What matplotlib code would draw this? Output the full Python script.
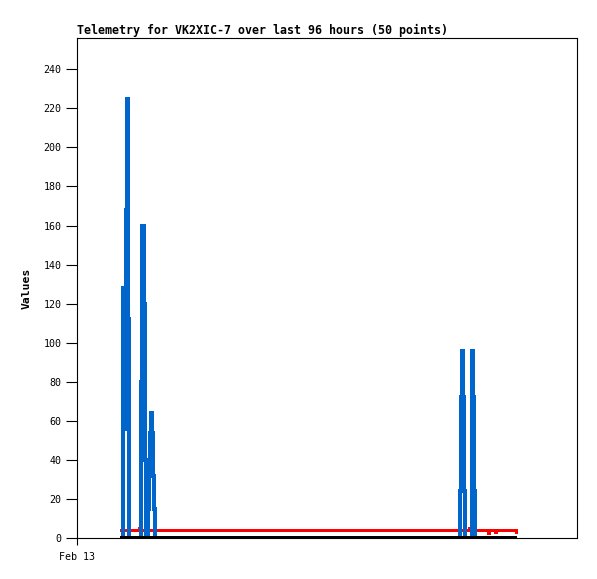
import matplotlib
matplotlib.use("Agg")
import matplotlib.pyplot as plt

# hours since Feb 13 00:00
blue_t = [9.1, 9.3, 9.5, 9.7, 9.9, 10.1, 10.3, 10.5,
          12.7, 12.9, 13.1, 13.3, 13.5, 13.7, 13.9, 14.1, 14.3, 14.5,
          14.7, 14.9, 15.1, 15.3, 15.5, 15.7,
          76.5, 76.7, 76.9, 77.1, 77.3, 77.5, 77.7,
          78.9, 79.1, 79.3, 79.5, 79.7]
blue_v = [0, 128, 80, 56, 168, 225, 112, 0,
          0, 80, 160, 160, 120, 40, 0, 0, 15, 32,
          54, 64, 54, 32, 15, 0,
          0, 24, 72, 96, 72, 24, 0,
          0, 96, 72, 24, 0]

red_t = [8.6, 12.4, 12.6, 12.8, 78.4, 78.6, 78.8, 82.2, 82.4, 82.6,
         83.6, 83.8, 84.0, 87.8, 88.0]
red_v = [4, 4, 5, 4, 4, 5, 4, 4, 2, 4, 4, 2.5, 4, 4, 2.5]

black_t = [8.6, 88.0]
black_v = [0, 0]

xtick_pos = [0]
xtick_lab = ["Feb 13"]
yticks = list(range(0, 241, 20))

MONO = "DejaVu Sans Mono"

fig = plt.figure(figsize=(5.97, 5.79), dpi=100)
ax = fig.add_axes([77 / 597, 41 / 579, 500 / 597, 500 / 579])

line_kw = dict(antialiased=False, solid_capstyle="butt", solid_joinstyle="miter")
ax.plot(red_t, red_v, color="#FF0000", lw=1.5, zorder=2, **line_kw)
ax.plot(blue_t, blue_v, color="#0066CC", lw=1.5, zorder=3,
        drawstyle="steps-mid", **line_kw)
ax.plot(black_t, black_v, color="black", lw=1.6, zorder=4, **line_kw)

ax.set_xlim(0, 100)
ax.set_ylim(0, 256)
ax.set_yticks(yticks)
ax.set_yticklabels([str(v) for v in yticks], family=MONO, fontsize=7.2)
ax.set_xticks(xtick_pos)
ax.set_xticklabels(xtick_lab, family=MONO, fontsize=7.2)
ax.tick_params(axis="y", length=8, width=0.8, pad=3)
ax.tick_params(axis="x", length=5, width=0.8, pad=5)
for s in ax.spines.values():
    s.set_linewidth(0.8)
    s.set_color("black")

ax.set_title("Telemetry for VK2XIC-7 over last 96 hours (50 points)",
             loc="left", family=MONO, fontsize=8.4, fontweight="bold", pad=3)
ax.set_ylabel("Values", family=MONO, fontsize=8.2, fontweight="bold")
ax.yaxis.set_label_coords(-0.09, 0.5)

fig.savefig("out.png", dpi=100, facecolor="white")
